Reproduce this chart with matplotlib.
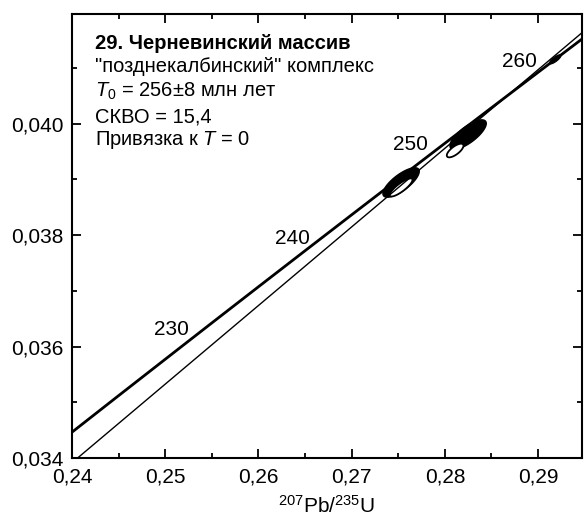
import numpy as np
import matplotlib
matplotlib.use("Agg")
import matplotlib.pyplot as plt
from matplotlib.patches import Polygon
from matplotlib.ticker import MultipleLocator, FuncFormatter

plt.rcParams['font.family'] = ['Liberation Sans', 'DejaVu Sans']
plt.rcParams['mathtext.fontset'] = 'custom'
plt.rcParams['mathtext.rm'] = 'Liberation Sans'
plt.rcParams['mathtext.it'] = 'Liberation Sans:italic'
plt.rcParams['mathtext.bf'] = 'Liberation Sans:bold'

# concordia curve (207Pb/235U, 206Pb/238U)
conc_x = [0.240, 0.245, 0.250, 0.255, 0.260, 0.265, 0.270, 0.275, 0.280, 0.285, 0.290, 0.2946]
conc_y = [0.034464, 0.035120, 0.035773, 0.036425, 0.037074, 0.037721, 0.038366,
          0.039009, 0.039650, 0.040288, 0.040924, 0.041508]

# age labels on the concordia, Ma
age_labels = ['230', '240', '250', '260']
age_lab_x = [0.2507, 0.2636, 0.2763, 0.2880]
age_lab_y = [0.03631, 0.03794, 0.03963, 0.04112]

# 260 Ma age marker
mark_x, mark_sx, mark_y, mark_sy, mark_rho = 0.29184, 0.000615, 0.041157, 0.0000823, 0.81

# discordia anchored at T = 0
disc_x = [0.2406, 0.2946]
disc_y = [0.0340, 0.04162]

# zircon analyses: x, 2s, y, 2s, rho
pts_x   = [0.27530, 0.28249, 0.27530, 0.28110]
pts_sx  = [0.001949, 0.001949, 0.001223, 0.000893]
pts_y   = [0.038946, 0.039806, 0.038857, 0.039520]
pts_sy  = [0.0002647, 0.0002647, 0.0001624, 0.0001226]
pts_rho = [0.755, 0.755, 0.840, 0.712]
pts_filled = [True, True, False, False]


def ellipse_xy(x0, sx, y0, sy, rho, n=120):
    cov = np.array([[sx * sx, rho * sx * sy], [rho * sx * sy, sy * sy]])
    vals, vecs = np.linalg.eigh(cov)
    t = np.linspace(0, 2 * np.pi, n)
    circ = np.vstack([np.cos(t) * np.sqrt(vals[0]), np.sin(t) * np.sqrt(vals[1])])
    pts = vecs @ circ
    return np.column_stack([pts[0] + x0, pts[1] + y0])


fig = plt.figure(figsize=(5.86, 5.21), dpi=100)
ax = fig.add_axes([0.123, 0.121, 0.870, 0.852])

for i in range(len(pts_x)):
    xy = ellipse_xy(pts_x[i], pts_sx[i], pts_y[i], pts_sy[i], pts_rho[i])
    if pts_filled[i]:
        ax.add_patch(Polygon(xy, closed=True, facecolor='black', edgecolor='black', lw=1, zorder=2))
    else:
        ax.add_patch(Polygon(xy, closed=True, facecolor='white', edgecolor='black', lw=1.3, zorder=3))

ax.plot(conc_x, conc_y, color='black', lw=2.0, zorder=4)
ax.plot(disc_x, disc_y, color='black', lw=1.0, zorder=4)
ax.add_patch(Polygon(ellipse_xy(mark_x, mark_sx, mark_y, mark_sy, mark_rho), closed=True,
                     facecolor='black', edgecolor='black', lw=0.8, zorder=5))

for lab, lx, ly in zip(age_labels, age_lab_x, age_lab_y):
    ax.text(lx, ly, lab, fontsize=15, ha='center', va='center')

ax.set_xlim(0.24, 0.2947)
ax.set_ylim(0.034, 0.04197)

ax.xaxis.set_major_locator(MultipleLocator(0.01))
ax.xaxis.set_minor_locator(MultipleLocator(0.005))
ax.yaxis.set_major_locator(MultipleLocator(0.002))
ax.yaxis.set_minor_locator(MultipleLocator(0.001))
ax.xaxis.set_major_formatter(FuncFormatter(lambda v, p: ('%.2f' % v).replace('.', ',')))
ax.yaxis.set_major_formatter(FuncFormatter(lambda v, p: ('%.3f' % v).replace('.', ',')))

ax.tick_params(which='both', direction='in', top=True, right=True, width=1.3, labelsize=15)
ax.tick_params(which='major', length=6.5)
ax.tick_params(which='minor', length=3.6)
ax.tick_params(axis='x', pad=7)
ax.tick_params(axis='y', pad=6)
for s in ax.spines.values():
    s.set_linewidth(1.5)

ax.set_xlabel(r'$^{207}$Pb/$^{235}$U', fontsize=15, labelpad=6)

tx = 0.045
fs = 14.5
ax.text(tx, 0.934, '29. Черневинский массив', transform=ax.transAxes, fontsize=fs,
        fontweight='bold', va='center')
ax.text(tx, 0.881, '"позднекалбинский" комплекс', transform=ax.transAxes, fontsize=fs, va='center')
ax.text(tx, 0.825, r'$\mathit{T}_0$ = 256±8 млн лет', transform=ax.transAxes, fontsize=fs, va='center')
ax.text(tx, 0.769, 'СКВО = 15,4', transform=ax.transAxes, fontsize=fs, va='center')
ax.text(tx, 0.717, r'Привязка к $\mathit{T}$ = 0', transform=ax.transAxes, fontsize=fs, va='center')

fig.savefig('out.png', dpi=100)
